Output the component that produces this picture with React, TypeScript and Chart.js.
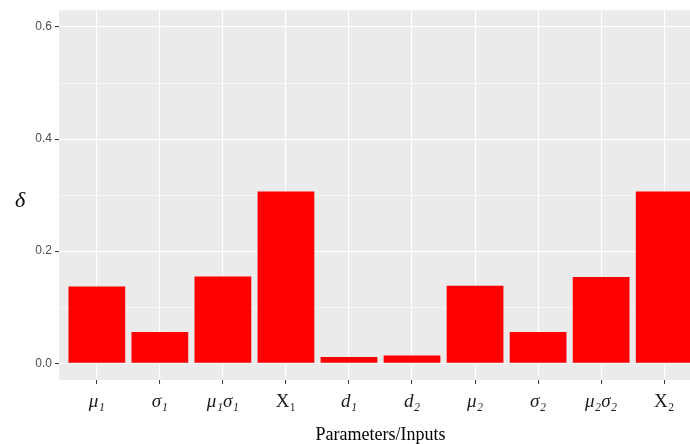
import React, { useEffect, useRef } from "react";
import { Chart, registerables } from "chart.js";

Chart.register(...registerables);

const categories = ["μ₁", "σ₁", "μ₁σ₁", "X₁", "d₁", "d₂", "μ₂", "σ₂", "μ₂σ₂", "X₂"];
const deltaValues = [0.137, 0.0556, 0.1545, 0.3066, 0.0112, 0.0137, 0.138, 0.0556, 0.154, 0.3066];
const yTickValues = [0, 0.1, 0.2, 0.3, 0.4, 0.5, 0.6];
const xTitle = "Parameters/Inputs";
const yTitle = "δ";

const panelPlugin = {
  id: "panel",
  beforeDraw(chart: any) {
    const { ctx, chartArea } = chart;
    ctx.save();
    ctx.fillStyle = "#EBEBEB";
    ctx.fillRect(chartArea.left, chartArea.top, chartArea.right - chartArea.left, chartArea.bottom - chartArea.top);
    ctx.restore();
  },
  afterDraw(chart: any) {
    const { ctx, chartArea } = chart;
    ctx.save();
    ctx.fillStyle = "#000";
    ctx.font = "italic 22px 'Liberation Serif', serif";
    ctx.textAlign = "center";
    ctx.textBaseline = "middle";
    ctx.fillText(yTitle, 20, (chartArea.top + chartArea.bottom) / 2 + 6);
    ctx.restore();
  },
};

export default function App() {
  const ref = useRef<HTMLCanvasElement>(null);
  useEffect(() => {
    if (!ref.current) return;
    const chart = new Chart(ref.current, {
      type: "bar",
      data: {
        datasets: [
          {
            data: deltaValues.map((v, i) => ({ x: i, y: v })),
            backgroundColor: "#FF0000",
            borderWidth: 0,
            barPercentage: 0.9,
            categoryPercentage: 1,
          },
        ],
      },
      options: {
        animation: false,
        responsive: false,
        layout: { padding: { top: 7, right: 0, left: 0, bottom: 0 } },
        plugins: { legend: { display: false }, tooltip: { enabled: false } },
        scales: {
          x: {
            type: "linear",
            offset: false,
            min: -0.6,
            max: categories.length - 1 + 0.6,
            afterBuildTicks: (scale: any) => {
              scale.ticks = categories.map((_, i) => ({ value: i }));
            },
            afterFit: (scale: any) => {
              scale.height = 64;
            },
            border: { display: false },
            grid: {
              offset: false,
              color: "#FFFFFF",
              lineWidth: 1.1,
              tickColor: "#333333",
              tickLength: 4,
              tickWidth: 1,
            },
            ticks: {
              autoSkip: false,
              maxRotation: 0,
              minRotation: 0,
              padding: 7,
              color: "#1a1a1a",
              callback: (v: any) => categories[v as number] ?? "",
              font: (c: any) => ({
                family: "'Liberation Serif', 'DejaVu Serif', serif",
                size: 19,
                style: categories[c.index] && categories[c.index].startsWith("X") ? "normal" : "italic",
              }),
            },
            title: {
              display: true,
              text: xTitle,
              color: "#000",
              font: { family: "'Liberation Serif', serif", size: 18, lineHeight: 1 },
              padding: { top: 0, bottom: 0 },
            },
          },
          y: {
            type: "linear",
            min: -0.03,
            max: 0.63,
            afterBuildTicks: (scale: any) => {
              scale.ticks = yTickValues.map((v) => ({ value: v }));
            },
            afterFit: (scale: any) => {
              scale.width = 59;
            },
            border: { display: false },
            grid: {
              color: "#FFFFFF",
              lineWidth: (c: any) => (c.index % 2 === 0 ? 1.1 : 0.55),
              tickColor: (c: any) => (c.index % 2 === 0 ? "#333333" : "rgba(0,0,0,0)"),
              tickLength: 4,
              tickWidth: 1,
            },
            ticks: {
              padding: 3,
              color: "#4D4D4D",
              font: { family: "'Liberation Sans', Arial, sans-serif", size: 12 },
              callback: (v: any, i: number) => (i % 2 === 0 ? Number(v).toFixed(1) : ""),
            },
          },
        },
      },
      plugins: [panelPlugin],
    } as any);
    return () => chart.destroy();
  }, []);
  return (
    <div style={{ position: "fixed", left: 0, top: 0, width: 690, height: 444, overflow: "hidden", background: "#fff" }}>
      <canvas ref={ref} width={702} height={444} style={{ display: "block", width: 702, height: 444 }} />
    </div>
  );
}
